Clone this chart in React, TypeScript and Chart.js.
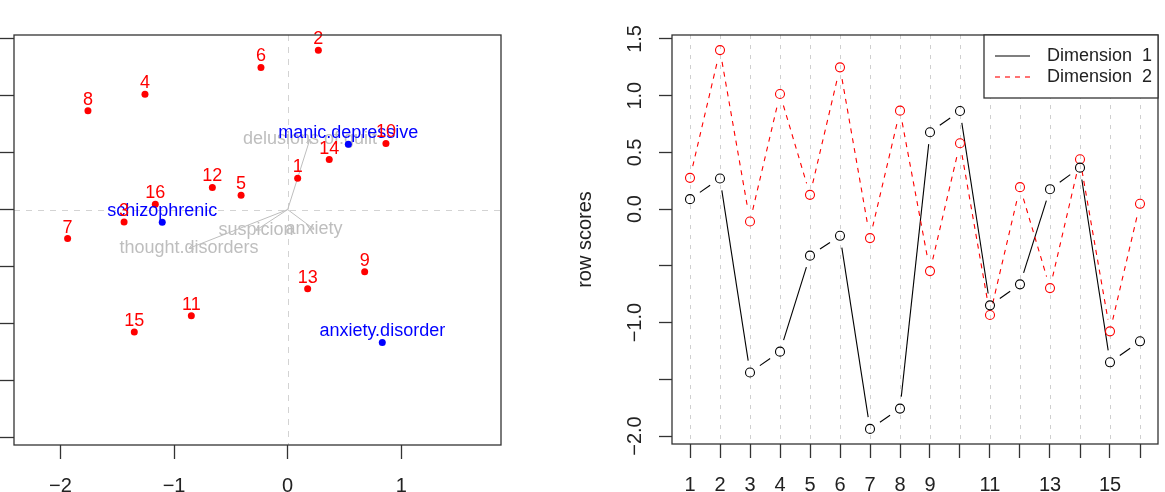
import React, { useEffect, useRef } from "react";
import { Chart, registerables } from "chart.js";
Chart.register(...registerables);

// ---------- data ----------
const rowLabels = ["1", "2", "3", "4", "5", "6", "7", "8", "9", "10", "11", "12", "13", "14", "15", "16"];
const dim1 = [0.088, 0.27, -1.44, -1.256, -0.41, -0.235, -1.937, -1.758, 0.678, 0.865, -0.848, -0.663, 0.176, 0.366, -1.35, -1.165];
const dim2 = [0.276, 1.402, -0.109, 1.015, 0.126, 1.25, -0.255, 0.868, -0.546, 0.581, -0.933, 0.194, -0.696, 0.44, -1.077, 0.047];

const colLabels = ["schizophrenic", "manic.depressive", "anxiety.disorder"];
const colX = [-1.104, 0.534, 0.833];
const colY = [-0.112, 0.575, -1.168];

const supLabels = ["delusions.of.guilt", "suspicion", "anxiety", "thought.disorders"];
const supX = [0.196, -0.279, 0.232, -0.869];
const supY = [0.619, -0.182, -0.173, -0.341];

const biplotXTicks = [-2, -1, 0, 1];
const biplotXTickLabels = ["\u22122", "\u22121", "0", "1"];
const biplotYTicks = [-2, -1.5, -1, -0.5, 0, 0.5, 1, 1.5];

const scoreXTicks = [1, 2, 3, 4, 5, 6, 7, 8, 9, 10, 11, 12, 13, 14, 15, 16];
const scoreXTickLabels = ["1", "2", "3", "4", "5", "6", "7", "8", "9", "", "11", "", "13", "", "15", ""];
const scoreYTicks = [-2, -1.5, -1, -0.5, 0, 0.5, 1, 1.5];
const scoreYTickLabels = ["\u22122.0", "", "\u22121.0", "", "0.0", "0.5", "1.0", "1.5"];
const seriesNames = ["Dimension  1", "Dimension  2"];
const yTitle = "row scores";

const Y_MIN = -2.07;
const Y_MAX = 1.535;
const BX_MIN = -2.409;
const BX_MAX = 1.878;
const SX_MIN = 0.4;
const SX_MAX = 16.6;

const FONT = "'Liberation Sans', Arial, Helvetica, sans-serif";
const BOX = "#333333";
const GAP = 12;

function fixTicks(values: number[]) {
  return (s: any) => {
    s.ticks = values.map((v) => ({ value: v }));
  };
}

const biplotPlugin = {
  id: "biplotDecor",
  beforeDatasetsDraw(chart: any) {
    const { ctx, chartArea: a, scales } = chart;
    const x = scales.x, y = scales.y;
    ctx.save();
    ctx.strokeStyle = "#d3d3d3";
    ctx.lineWidth = 1;
    ctx.setLineDash([6, 6]);
    const x0 = Math.round(x.getPixelForValue(0)) + 0.5;
    const y0 = Math.round(y.getPixelForValue(0)) + 0.5;
    ctx.beginPath();
    ctx.moveTo(x0, a.top);
    ctx.lineTo(x0, a.bottom);
    ctx.moveTo(a.left, y0);
    ctx.lineTo(a.right, y0);
    ctx.stroke();
    ctx.setLineDash([]);
    // grey labels
    ctx.font = `18px ${FONT}`;
    ctx.fillStyle = "#bebebe";
    ctx.textAlign = "center";
    ctx.textBaseline = "middle";
    supLabels.forEach((t, i) => {
      ctx.fillText(t, x.getPixelForValue(supX[i]), y.getPixelForValue(supY[i]));
    });
    ctx.restore();
  },
  afterDatasetsDraw(chart: any) {
    const { ctx, chartArea: a, scales } = chart;
    const x = scales.x, y = scales.y;
    ctx.save();
    // arrowheads
    ctx.strokeStyle = "#bebebe";
    ctx.lineWidth = 1;
    const ox = x.getPixelForValue(0), oy = y.getPixelForValue(0);
    supLabels.forEach((_, i) => {
      const tx = x.getPixelForValue(supX[i]), ty = y.getPixelForValue(supY[i]);
      const ang = Math.atan2(ty - oy, tx - ox);
      const L = 5;
      ctx.beginPath();
      ctx.moveTo(tx - L * Math.cos(ang - 0.5), ty - L * Math.sin(ang - 0.5));
      ctx.lineTo(tx, ty);
      ctx.lineTo(tx - L * Math.cos(ang + 0.5), ty - L * Math.sin(ang + 0.5));
      ctx.stroke();
    });
    ctx.font = `18px ${FONT}`;
    ctx.textAlign = "center";
    ctx.textBaseline = "middle";
    ctx.fillStyle = "#0000ff";
    colLabels.forEach((t, i) => {
      ctx.fillText(t, x.getPixelForValue(colX[i]), y.getPixelForValue(colY[i]) - 11);
    });
    ctx.fillStyle = "#ff0000";
    rowLabels.forEach((t, i) => {
      ctx.fillText(t, x.getPixelForValue(dim1[i]), y.getPixelForValue(dim2[i]) - 11);
    });
    ctx.strokeStyle = BOX;
    ctx.lineWidth = 1.3;
    ctx.strokeRect(a.left, a.top, a.right - a.left, a.bottom - a.top);
    ctx.restore();
  },
};

const scoresPlugin = {
  id: "scoresDecor",
  beforeDatasetsDraw(chart: any) {
    const { ctx, chartArea: a, scales } = chart;
    const x = scales.x;
    ctx.save();
    ctx.strokeStyle = "#cfcfcf";
    ctx.lineWidth = 1;
    ctx.setLineDash([4, 6]);
    scoreXTicks.forEach((v) => {
      const px = Math.round(x.getPixelForValue(v)) + 0.5;
      ctx.beginPath();
      ctx.moveTo(px, a.top);
      ctx.lineTo(px, a.bottom);
      ctx.stroke();
    });
    chart.data.datasets.forEach((ds: any, i: number) => {
      const meta = chart.getDatasetMeta(i);
      ctx.strokeStyle = ds.pointBorderColor;
      ctx.lineWidth = 1.1;
      ctx.setLineDash(ds.dashPattern || []);
      const pts = meta.data;
      for (let k = 0; k < pts.length - 1; k++) {
        const p = pts[k], q = pts[k + 1];
        const dx = q.x - p.x, dy = q.y - p.y;
        const L = Math.hypot(dx, dy);
        if (L <= 2 * GAP) continue;
        const ux = dx / L, uy = dy / L;
        ctx.beginPath();
        ctx.moveTo(p.x + ux * GAP, p.y + uy * GAP);
        ctx.lineTo(q.x - ux * GAP, q.y - uy * GAP);
        ctx.stroke();
      }
    });
    ctx.restore();
  },
  afterDraw(chart: any) {
    const { ctx, chartArea: a, scales } = chart;
    const y = scales.y;
    ctx.save();
    ctx.strokeStyle = BOX;
    ctx.lineWidth = 1.3;
    ctx.setLineDash([]);
    ctx.strokeRect(a.left, a.top, a.right - a.left, a.bottom - a.top);
    // rotated y tick labels
    ctx.fillStyle = "#222";
    ctx.font = `20px ${FONT}`;
    ctx.textAlign = "center";
    ctx.textBaseline = "middle";
    scoreYTicks.forEach((v, i) => {
      const t = scoreYTickLabels[i];
      if (!t) return;
      ctx.save();
      ctx.translate(a.left - 37, y.getPixelForValue(v));
      ctx.rotate(-Math.PI / 2);
      ctx.fillText(t, 0, 0);
      ctx.restore();
    });
    ctx.save();
    ctx.translate(a.left - 87, (a.top + a.bottom) / 2);
    ctx.rotate(-Math.PI / 2);
    ctx.fillText(yTitle, 0, 0);
    ctx.restore();
    // legend
    const lx0 = a.right - 174, ly0 = a.top, lx1 = a.right, ly1 = a.top + 63;
    ctx.fillStyle = "#fff";
    ctx.fillRect(lx0, ly0, lx1 - lx0, ly1 - ly0);
    ctx.strokeRect(lx0, ly0, lx1 - lx0, ly1 - ly0);
    const rows = [
      { color: "#000000", dash: [] as number[], yy: ly0 + 21 },
      { color: "#ff0000", dash: [5, 5], yy: ly0 + 42 },
    ];
    rows.forEach((r, i) => {
      ctx.strokeStyle = r.color;
      ctx.lineWidth = 1.1;
      ctx.setLineDash(r.dash);
      ctx.beginPath();
      ctx.moveTo(lx0 + 11, r.yy);
      ctx.lineTo(lx0 + 46, r.yy);
      ctx.stroke();
      ctx.fillStyle = "#222";
      ctx.font = `18px ${FONT}`;
      ctx.textAlign = "left";
      ctx.fillText(seriesNames[i], lx0 + 63, r.yy);
    });
    ctx.restore();
  },
};

function axisFit(size: number, vertical: boolean) {
  return (s: any) => {
    if (vertical) s.width = size;
    else s.height = size;
    s.paddingLeft = 0;
    s.paddingRight = 0;
    s.paddingTop = 0;
    s.paddingBottom = 0;
  };
}

export default function App() {
  const leftRef = useRef<HTMLCanvasElement>(null);
  const rightRef = useRef<HTMLCanvasElement>(null);

  useEffect(() => {
    const tickFont = { family: FONT, size: 20 };
    const left = new Chart(leftRef.current!, {
      type: "scatter",
      data: {
        datasets: [
          {
            label: "rows",
            data: dim1.map((v, i) => ({ x: v, y: dim2[i] })),
            pointRadius: 3.5,
            pointBackgroundColor: "#ff0000",
            pointBorderColor: "#ff0000",
            pointBorderWidth: 0,
          } as any,
          {
            label: "columns",
            data: colX.map((v, i) => ({ x: v, y: colY[i] })),
            pointRadius: 3.5,
            pointBackgroundColor: "#0000ff",
            pointBorderColor: "#0000ff",
            pointBorderWidth: 0,
          } as any,
          ...supLabels.map((name, i) => ({
            label: name,
            data: [
              { x: 0, y: 0 },
              { x: supX[i], y: supY[i] },
            ],
            showLine: true,
            borderColor: "#bebebe",
            borderWidth: 1,
            pointRadius: 0,
          })),
        ],
      },
      options: {
        responsive: false,
        animation: false,
        devicePixelRatio: 1,
        layout: { padding: { left: 0, top: 35, right: 59, bottom: 0 } },
        plugins: { legend: { display: false }, tooltip: { enabled: false } },
        events: [],
        scales: {
          x: {
            type: "linear",
            min: BX_MIN,
            max: BX_MAX,
            afterBuildTicks: fixTicks(biplotXTicks),
            afterFit: axisFit(47, false),
            grid: { drawOnChartArea: false, tickLength: 14, tickColor: BOX, tickWidth: 1.3 },
            border: { display: false },
            ticks: {
              font: tickFont,
              color: "#222",
              padding: 15,
              maxRotation: 0,
              callback: (_v: any, i: number) => biplotXTickLabels[i],
            },
          },
          y: {
            type: "linear",
            min: Y_MIN,
            max: Y_MAX,
            afterBuildTicks: fixTicks(biplotYTicks),
            afterFit: axisFit(14, true),
            grid: { drawOnChartArea: false, tickLength: 14, tickColor: BOX, tickWidth: 1.3 },
            border: { display: false },
            ticks: { display: false },
          },
        },
      } as any,
      plugins: [biplotPlugin],
    });

    const right = new Chart(rightRef.current!, {
      type: "scatter",
      data: {
        datasets: [
          {
            label: seriesNames[0],
            data: dim1.map((v, i) => ({ x: scoreXTicks[i], y: v })),
            showLine: false,
            pointRadius: 4.5,
            pointBorderWidth: 1.1,
            pointBackgroundColor: "rgba(0,0,0,0)",
            pointBorderColor: "#000000",
            dashPattern: [],
          } as any,
          {
            label: seriesNames[1],
            data: dim2.map((v, i) => ({ x: scoreXTicks[i], y: v })),
            showLine: false,
            pointRadius: 4.5,
            pointBorderWidth: 1.1,
            pointBackgroundColor: "rgba(0,0,0,0)",
            pointBorderColor: "#ff0000",
            dashPattern: [5, 5],
          } as any,
        ],
      },
      options: {
        responsive: false,
        animation: false,
        devicePixelRatio: 1,
        layout: { padding: { left: 0, top: 35, right: 7, bottom: 0 } },
        plugins: { legend: { display: false }, tooltip: { enabled: false } },
        events: [],
        scales: {
          x: {
            type: "linear",
            min: SX_MIN,
            max: SX_MAX,
            afterBuildTicks: fixTicks(scoreXTicks),
            afterFit: axisFit(48, false),
            grid: { drawOnChartArea: false, tickLength: 14, tickColor: BOX, tickWidth: 1.3 },
            border: { display: false },
            ticks: {
              font: tickFont,
              color: "#222",
              padding: 15,
              maxRotation: 0,
              autoSkip: false,
              callback: (_v: any, i: number) => scoreXTickLabels[i],
            },
          },
          y: {
            type: "linear",
            min: Y_MIN,
            max: Y_MAX,
            afterBuildTicks: fixTicks(scoreYTicks),
            afterFit: axisFit(132, true),
            grid: { drawOnChartArea: false, tickLength: 13, tickColor: BOX, tickWidth: 1.3 },
            border: { display: false },
            ticks: { display: false },
          },
        },
      } as any,
      plugins: [scoresPlugin],
    });

    return () => {
      left.destroy();
      right.destroy();
    };
  }, []);

  return (
    <div style={{ position: "fixed", left: 0, top: 0, width: 1165, height: 492, background: "#fff", overflow: "hidden" }}>
      <canvas ref={leftRef} width={560} height={492} style={{ position: "absolute", left: 0, top: 0, width: 560, height: 492 }} />
      <canvas ref={rightRef} width={625} height={492} style={{ position: "absolute", left: 540, top: 0, width: 625, height: 492 }} />
    </div>
  );
}
